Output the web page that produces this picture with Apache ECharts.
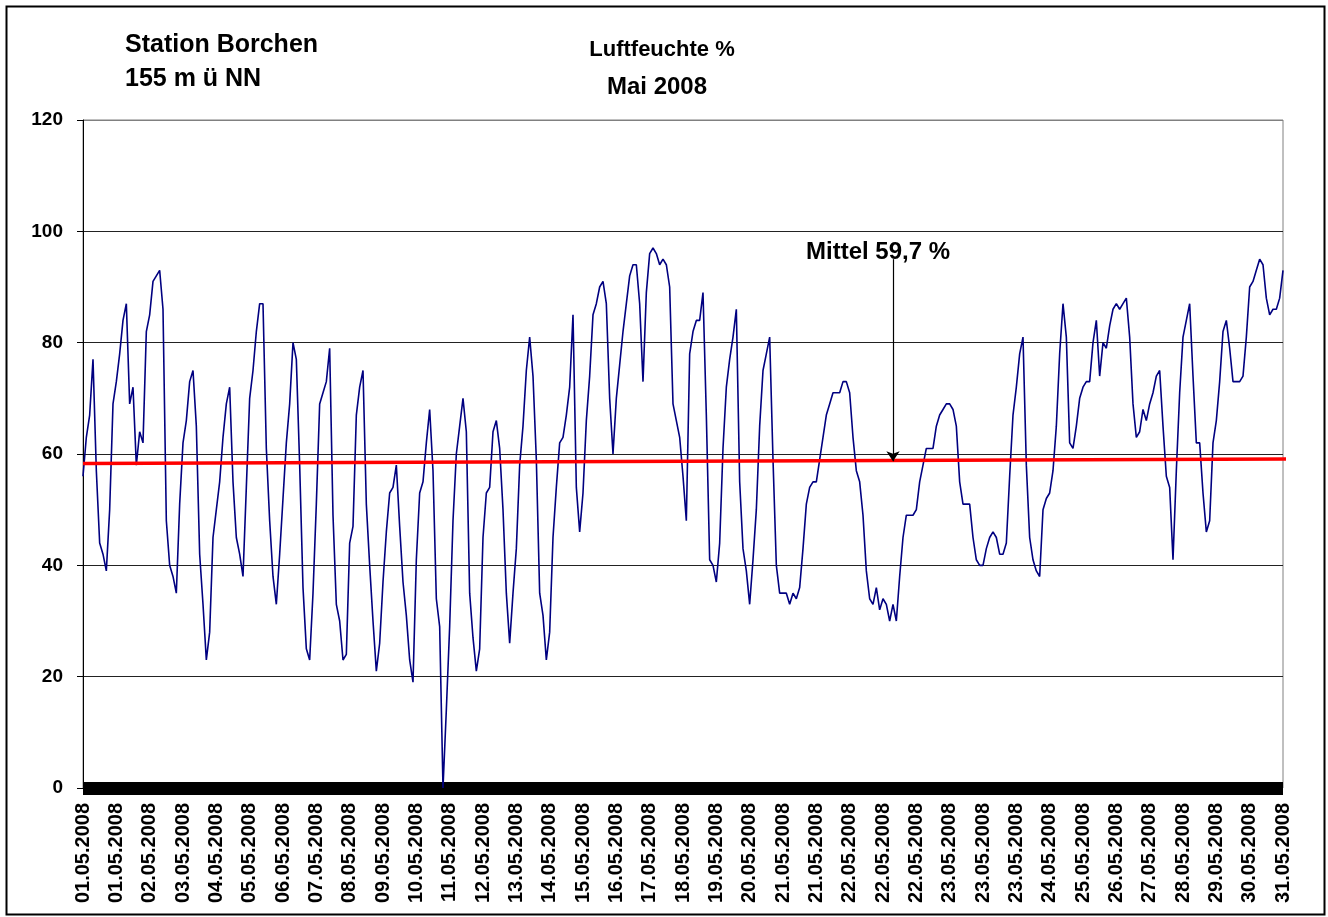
<!DOCTYPE html>
<html>
<head>
<meta charset="utf-8">
<title>Luftfeuchte Mai 2008</title>
<script src="https://cdn.jsdelivr.net/npm/echarts@6/dist/echarts.min.js"></script>
<style>
    html, body { margin: 0; padding: 0; background: #fff; }
    #main { width: 1328px; height: 917px; }
</style>
</head>
<body>
<div id="main"></div>
<script>
    // x轴标签 (每10个点一个)
    const tickLabels = [
        '01.05.2008', '01.05.2008', '02.05.2008', '03.05.2008', '04.05.2008', '05.05.2008',
        '06.05.2008', '07.05.2008', '08.05.2008', '09.05.2008', '10.05.2008', '11.05.2008',
        '12.05.2008', '13.05.2008', '14.05.2008', '15.05.2008', '16.05.2008', '17.05.2008',
        '18.05.2008', '19.05.2008', '20.05.2008', '21.05.2008', '21.05.2008', '22.05.2008',
        '22.05.2008', '22.05.2008', '23.05.2008', '23.05.2008', '23.05.2008', '24.05.2008',
        '25.05.2008', '26.05.2008', '27.05.2008', '28.05.2008', '29.05.2008', '30.05.2008',
        '31.05.2008'
    ];

    // Luftfeuchte %
    const humidity = [
        56, 63, 67, 77, 57, 44, 42, 39, 50, 69,
        73, 78, 84, 87, 69, 72, 58, 64, 62, 82,
        85, 91, 92, 93, 86, 48, 40, 38, 35, 51,
        62, 66, 73, 75, 65, 42, 33, 23, 28, 45,
        50, 55, 63, 69, 72, 55, 45, 42, 38, 54,
        70, 75, 82, 87, 87, 61, 48, 38, 33, 42,
        52, 62, 69, 80, 77, 58, 36, 25, 23, 35,
        51, 69, 71, 73, 79, 49, 33, 30, 23, 24,
        44, 47, 67, 72, 75, 51, 40, 30, 21, 26,
        37, 46, 53, 54, 58, 47, 37, 31, 23, 19,
        41, 53, 55, 62, 68, 57, 34, 29, 0, 14,
        29, 48, 60, 65, 70, 64, 35, 27, 21, 25,
        45, 53, 54, 64, 66, 61, 50, 35, 26, 35,
        43, 58, 65, 75, 81, 74, 59, 35, 31, 23,
        28, 45, 54, 62, 63, 67, 72, 85, 54, 46,
        53, 66, 74, 85, 87, 90, 91, 87, 70, 60,
        70, 76, 82, 87, 92, 94, 94, 87, 73, 89,
        96, 97, 96, 94, 95, 94, 90, 69, 66, 63,
        56, 48, 78, 82, 84, 84, 89, 67, 41, 40,
        37, 44, 61, 72, 77, 81, 86, 55, 43, 39,
        33, 41, 50, 65, 75, 78, 81, 59, 40, 35,
        35, 35, 33, 35, 34, 36, 43, 51, 54, 55,
        55, 59, 63, 67, 69, 71, 71, 71, 73, 73,
        71, 63, 57, 55, 49, 39, 34, 33, 36, 32,
        34, 33, 30, 33, 30, 38, 45, 49, 49, 49,
        50, 55, 58, 61, 61, 61, 65, 67, 68, 69,
        69, 68, 65, 55, 51, 51, 51, 45, 41, 40,
        40, 43, 45, 46, 45, 42, 42, 44, 56, 67,
        72, 78, 81, 58, 45, 41, 39, 38, 50, 52,
        53, 57, 65, 78, 87, 81, 62, 61, 65, 70,
        72, 73, 73, 80, 84, 74, 80, 79, 83, 86,
        87, 86, 87, 88, 81, 69, 63, 64, 68, 66,
        69, 71, 74, 75, 65, 56, 54, 41, 57, 71,
        81, 84, 87, 74, 62, 62, 53, 46, 48, 62,
        66, 73, 82, 84, 79, 73, 73, 73, 74, 81,
        90, 91, 93, 95, 94, 88, 85, 86, 86, 88,
        93
    ];

    // 红色平均线两端 / 箭头
    const meanStart = 58.3;
    const meanEnd = 59.1;
    const meanText = 'Mittel 59,7 %';
    const arrowAt = 243;
    const arrowTop = 95;
    const arrowTip = 58.7;

    const fontFamily = '"Liberation Sans", Arial, sans-serif';

    const chartInstance = echarts.init(document.getElementById('main'));
    const option = {
        animation: false,
        backgroundColor: '#fff',
        title: [
            {
                text: 'Station Borchen', left: 125, top: 33, padding: 0,
                textStyle: { fontSize: 25, fontWeight: 'bold', fontFamily: fontFamily, color: '#000' }
            },
            {
                text: '155 m ü NN', left: 125, top: 67, padding: 0,
                textStyle: { fontSize: 25, fontWeight: 'bold', fontFamily: fontFamily, color: '#000' }
            },
            {
                text: 'Luftfeuchte %', left: 662, top: 39, padding: 0, textAlign: 'center',
                textStyle: { fontSize: 22, fontWeight: 'bold', fontFamily: fontFamily, color: '#000' }
            },
            {
                text: 'Mai 2008', left: 657, top: 75, padding: 0, textAlign: 'center',
                textStyle: { fontSize: 24, fontWeight: 'bold', fontFamily: fontFamily, color: '#000' }
            }
        ],
        graphic: [
            {
                type: 'rect', left: 4, top: 4, silent: true,
                shape: { width: 1318, height: 908 },
                style: { fill: 'none', stroke: '#000', lineWidth: 2 }
            },
            {
                type: 'text', left: 806, top: 240, z: 10,
                style: { text: meanText, font: 'bold 24px ' + fontFamily, fill: '#000' }
            }
        ],
        grid: {
            left: 83,
            right: 45,
            top: 120,
            bottom: 129,
            show: true,
            borderColor: '#808080',
            borderWidth: 1
        },
        xAxis: {
            type: 'value',
            min: 0,
            max: 360,
            interval: 10,
            axisLine: { show: true, lineStyle: { color: '#000', width: 13, cap: 'butt' } },
            axisTick: { show: false },
            splitLine: { show: false },
            axisLabel: {
                rotate: 90,
                margin: 15,
                color: '#000',
                fontSize: 20,
                fontWeight: 'bold',
                fontFamily: fontFamily,
                showMinLabel: true,
                showMaxLabel: true,
                formatter: (v) => tickLabels[Math.round(v / 10)] || ''
            }
        },
        yAxis: {
            type: 'value',
            min: 0,
            max: 120,
            interval: 20,
            axisLine: { show: true, lineStyle: { color: '#000', width: 1 } },
            axisTick: { show: true, length: 6, lineStyle: { color: '#000' } },
            splitLine: {
                show: true,
                lineStyle: { color: ['#222', '#222', '#222', '#222', '#222', '#222', '#808080'], width: 1 }
            },
            axisLabel: {
                margin: 20,
                color: '#000',
                fontSize: 19,
                fontWeight: 'bold',
                fontFamily: fontFamily
            }
        },
        series: [
            {
                type: 'line',
                name: 'Luftfeuchte',
                showSymbol: false,
                z: 2,
                lineStyle: { color: '#000080', width: 1.6 },
                itemStyle: { color: '#000080' },
                data: humidity.map((v, i) => [i, v])
            },
            {
                type: 'line',
                name: 'Mittel',
                showSymbol: false,
                clip: false,
                z: 3,
                lineStyle: { color: '#ff0000', width: 3.5 },
                itemStyle: { color: '#ff0000' },
                data: [[0, meanStart], [364, meanEnd]],
                markLine: {
                    silent: true,
                    symbol: ['none', 'arrow'],
                    symbolSize: 10,
                    label: { show: false },
                    lineStyle: { color: '#000', width: 1.2, type: 'solid' },
                    data: [
                        [
                            { coord: [arrowAt, arrowTop] },
                            { coord: [arrowAt, arrowTip] }
                        ]
                    ]
                }
            }
        ]
    };
    chartInstance.setOption(option);
</script>
</body>
</html>
